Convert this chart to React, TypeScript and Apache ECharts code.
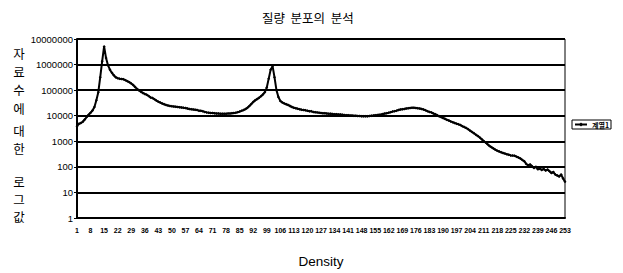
import React, { useEffect, useRef } from "react";
import * as echarts from "echarts";

const title = "질량  분포의  분석";
const xAxisName = "Density";
const seriesName = "계열1";
// y-axis title "자료수에 대한 로그값", written vertically in three word groups
const yAxisNameGroups = ["자\n료\n수\n에", "대\n한", "로\n그\n값"];
const yAxisNameGroupTop = [44, 122, 173];
const yAxisNameLineHeight = [18.3, 17.5, 17.5];

const categories: string[] = [];
for (let i = 1; i <= 253; i++) categories.push(String(i));

const counts = [
  3900, 4800, 5200, 5800, 7100, 8900, 11000, 13000, 16000, 22000,
  40000, 83000, 320000, 1350000, 5100000, 1800000, 950000, 630000, 480000, 380000,
  320000, 295000, 280000, 275000, 265000, 245000, 225000, 205000, 182000, 158000,
  132000, 112000, 98000, 87000, 78000, 71000, 66000, 59000, 52000, 49000,
  44000, 39000, 35500, 32500, 30000, 28000, 26300, 25100, 24000, 23400,
  22900, 22400, 21900, 21400, 20900, 20400, 20000, 19100, 18200, 17800,
  17400, 17000, 16600, 15800, 15500, 14800, 14100, 13500, 13200, 12900,
  12900, 12600, 12300, 12300, 12000, 12000, 12000, 12000, 12300, 12300,
  12600, 12900, 13200, 13800, 14500, 15500, 16600, 18200, 20400, 24000,
  28800, 34700, 39800, 44700, 50100, 57500, 67600, 83200, 126000, 282000,
  631000, 871000, 316000, 100000, 53700, 38000, 33100, 30200, 28200, 26300,
  24000, 21900, 20400, 19500, 18600, 17800, 17000, 16600, 16200, 15500,
  15100, 14800, 14100, 13800, 13500, 13200, 12900, 12600, 12600, 12300,
  12000, 12000, 11700, 11500, 11500, 11200, 11200, 11000, 10700, 10500,
  10500, 10200, 10200, 10000, 10000, 9800, 9800, 9500, 9500, 9500,
  9500, 9800, 10000, 10200, 10500, 10700, 11000, 11200, 11700, 12300,
  12600, 13200, 13800, 14500, 15100, 15800, 16600, 17400, 17800, 18200,
  19100, 19500, 20000, 20400, 20400, 20000, 19500, 19100, 18200, 17400,
  16200, 15100, 14100, 13500, 12300, 11500, 10500, 9500, 8900, 8100,
  7600, 6900, 6500, 6000, 5600, 5200, 4900, 4600, 4300, 3900,
  3600, 3300, 2950, 2600, 2300, 2050, 1800, 1600, 1400, 1200,
  1020, 890, 760, 660, 590, 525, 470, 430, 400, 370,
  350, 330, 310, 300, 280, 275, 270, 250, 230, 210,
  185, 165, 130, 115, 125, 105, 91, 100, 80, 85,
  76, 83, 72, 78, 68, 58, 63, 50, 46, 42,
  50, 35, 26,
];

export default function App() {
  const ref = useRef<HTMLDivElement>(null);
  useEffect(() => {
    document.body.style.margin = "0";
    if (!ref.current) return;
    const chart = echarts.init(ref.current, undefined, { renderer: "svg" });
    const graphics: any[] = yAxisNameGroups.map((txt, i) => ({
      type: "text",
      x: 19,
      y: yAxisNameGroupTop[i],
      style: {
        text: txt,
        fill: "#000",
        fontFamily: "Noto Sans CJK KR",
        fontSize: 12.5,
        lineHeight: yAxisNameLineHeight[i],
        textAlign: "center",
        textVerticalAlign: "top",
      },
    }));
    chart.setOption({
      animation: false,
      backgroundColor: "#fff",
      title: {
        text: title,
        left: 257,
        top: 6,
        textStyle: {
          fontFamily: "Noto Sans CJK KR",
          fontSize: 12.5,
          fontWeight: "normal",
          color: "#000",
        },
      },
      legend: {
        left: 572,
        top: 120,
        orient: "vertical",
        borderColor: "#000",
        borderWidth: 1,
        padding: [1, 2, 1, 2],
        itemWidth: 12,
        itemHeight: 5,
        textStyle: { fontSize: 7, fontWeight: "bold", color: "#000", fontFamily: "Noto Sans CJK KR" },
        data: [seriesName],
      },
      graphic: graphics,
      grid: {
        left: 77,
        right: 58,
        top: 39,
        bottom: 51,
        show: true,
        borderColor: "#000",
        borderWidth: 1,
      },
      xAxis: {
        type: "category",
        data: categories,
        boundaryGap: false,
        name: xAxisName,
        nameLocation: "middle",
        nameGap: 36,
        nameTextStyle: { fontFamily: "Arial, Liberation Sans", fontSize: 13.5, color: "#000" },
        axisLine: { lineStyle: { color: "#000", width: 2 } },
        axisTick: { show: false },
        axisLabel: {
          interval: 6,
          fontSize: 7,
          fontWeight: "bold",
          color: "#000",
          fontFamily: "Arial, Liberation Sans",
          margin: 9,
        },
        splitLine: { show: false },
      },
      yAxis: {
        type: "log",
        logBase: 10,
        min: 1,
        max: 10000000,
        splitNumber: 7,
        axisLine: { show: true, lineStyle: { color: "#000", width: 2 } },
        axisTick: { show: true, length: 3, lineStyle: { color: "#000", width: 1 } },
        axisLabel: {
          fontSize: 9.5,
          color: "#000",
          fontFamily: "Arial, Liberation Sans",
          margin: 4,
          formatter: (v: number) => String(Math.round(v)),
        },
        splitLine: { show: true, lineStyle: { color: "#000", width: 2 } },
      },
      series: [
        {
          name: seriesName,
          type: "line",
          data: counts,
          showSymbol: true,
          showAllSymbol: true,
          symbol: "diamond",
          symbolSize: 3,
          itemStyle: { color: "#000" },
          lineStyle: { color: "#000", width: 2 },
        },
      ],
    });
    return () => chart.dispose();
  }, []);
  return <div ref={ref} style={{ width: 623, height: 273 }} />;
}
